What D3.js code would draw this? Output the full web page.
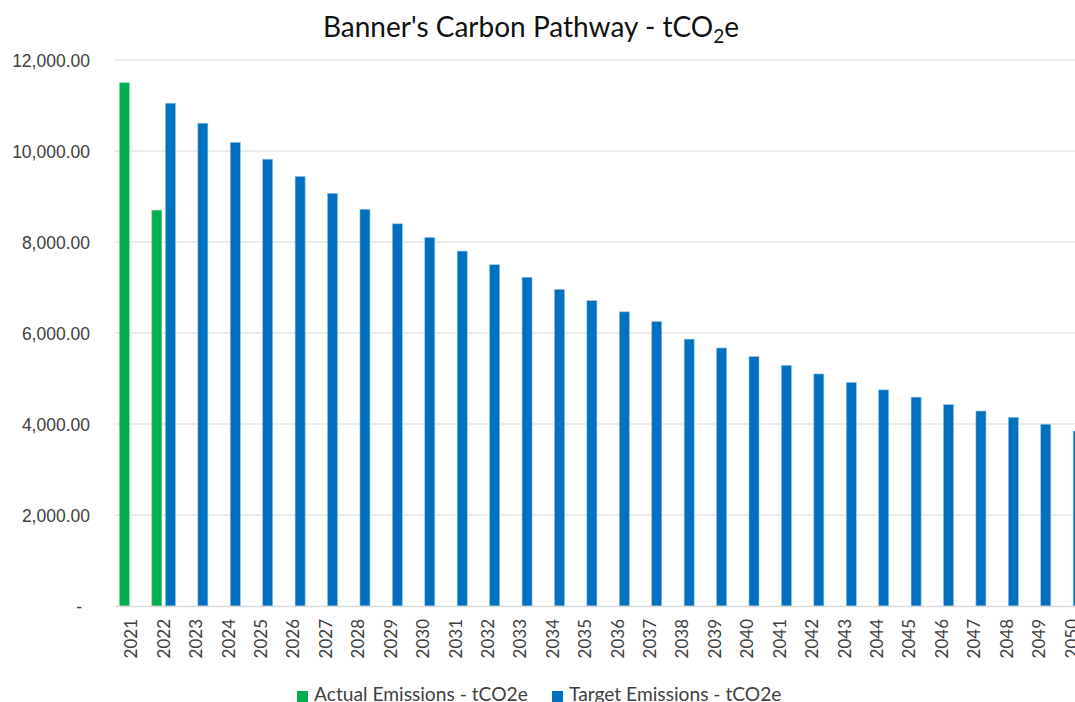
<!DOCTYPE html>
<html>
<head>
<meta charset="utf-8">
<script src="https://cdn.jsdelivr.net/npm/d3@7"></script>
<style>
  body { margin: 0; background: #fff; }
  svg { display: block; font-family: Lato, "Noto Sans", sans-serif; }
</style>
</head>
<body>
<svg></svg>
<script>
let years = d3.range(2021, 2051)
let seriesNames = ["Actual Emissions - tCO2e", "Target Emissions - tCO2e"]
let seriesColors = ["#00b050", "#0070c0"]

// actual emissions, only two years reported
let actualYears = [2021, 2022]
let actualValues = [11500, 8700]

// target pathway 2022 - 2050
let targetYears = d3.range(2022, 2051)
let targetValues = [
    11050, 10610, 10190, 9820, 9440, 9070, 8720, 8400, 8100, 7800,
    7500, 7225, 6955, 6710, 6465, 6250, 5865, 5670, 5480, 5290,
    5100, 4915, 4750, 4590, 4425, 4285, 4145, 3995, 3845
]
let yTicks = [0, 2000, 4000, 6000, 8000, 10000, 12000]

let width = 1075, height = 702
let plot = { left: 115, right: 1087.6, top: 60, bottom: 606 }

let svg = d3.select("svg")
    .attr("width", width)
    .attr("height", height)

let x0 = d3.scaleBand().domain(years).range([plot.left, plot.right])
let x1 = d3.scaleBand().domain([0, 1])
    .range([0, x0.bandwidth()])
    .paddingInner(0.265)
    .paddingOuter(0.3235)
let y = d3.scaleLinear().domain([0, 12000]).range([plot.bottom, plot.top])

// gridlines
svg.append("g")
    .selectAll("line")
    .data(yTicks.slice(1))
    .join("line")
    .attr("x1", plot.left)
    .attr("x2", plot.right)
    .attr("y1", d => y(d))
    .attr("y2", d => y(d))
    .attr("stroke", "#d9d9d9")
    .attr("stroke-width", 1)

let yAxis = d3.axisLeft(y)
    .tickValues(yTicks)
    .tickSize(0)
    .tickPadding(25)
    .tickFormat(d => d === 0 ? "-" : d3.format(",.2f")(d))

let yG = svg.append("g")
    .attr("transform", "translate(" + plot.left + ",0)")
    .call(yAxis)
yG.select(".domain").remove()
yG.selectAll("text")
    .attr("fill", "#404040")
    .style("font-size", "17.5px")
    .attr("dy", "0.36em")
yG.selectAll(".tick").filter(d => d === 0).select("text").attr("x", -33)

let actual = actualYears.map((yr, i) => ({ year: yr, value: actualValues[i] }))
let target = targetYears.map((yr, i) => ({ year: yr, value: targetValues[i] }))

function addBars(rows, s) {
    svg.append("g")
        .selectAll("rect")
        .data(rows)
        .join("rect")
        .attr("x", d => x0(d.year) + x1(s))
        .attr("width", x1.bandwidth())
        .attr("y", d => y(d.value))
        .attr("height", d => y(0) - y(d.value))
        .attr("fill", seriesColors[s])
        .attr("stroke", s === 0 ? "#7fd8a7" : "#8fbfe6")
        .attr("stroke-width", 0.6)
}
addBars(actual, 0)
addBars(target, 1)

// category axis
svg.append("line")
    .attr("x1", plot.left)
    .attr("x2", plot.right)
    .attr("y1", plot.bottom + 0.5)
    .attr("y2", plot.bottom + 0.5)
    .attr("stroke", "#d9d9d9")
    .attr("stroke-width", 1.5)

svg.append("g")
    .selectAll("text")
    .data(years)
    .join("text")
    .attr("transform", d => "translate(" + (x0(d) + x0.bandwidth() / 2) + "," + (plot.bottom + 13) + ") rotate(-90)")
    .attr("dy", "0.36em")
    .attr("text-anchor", "end")
    .attr("fill", "#404040")
    .style("font-size", "17px")
    .text(d => d)

// title
let title = svg.append("text")
    .attr("x", 531)
    .attr("y", 37)
    .attr("text-anchor", "middle")
    .attr("fill", "#111")
    .style("font-size", "28px")
title.append("tspan").text("Banner's Carbon Pathway - tCO")
title.append("tspan").attr("dy", 6).style("font-size", "19px").text("2")
title.append("tspan").attr("dy", -6).text("e")

// legend, cut off by the bottom edge like the original
let legendX = [297, 552]
let legend = svg.append("g")
    .selectAll("g")
    .data(seriesNames)
    .join("g")
    .attr("transform", (d, i) => "translate(" + legendX[i] + ",691)")
legend.append("rect")
    .attr("width", 11)
    .attr("height", 11)
    .attr("fill", (d, i) => seriesColors[i])
legend.append("text")
    .attr("x", 17)
    .attr("y", 10)
    .attr("fill", "#404040")
    .style("font-size", "19.2px")
    .text(d => d)
</script>
</body>
</html>
